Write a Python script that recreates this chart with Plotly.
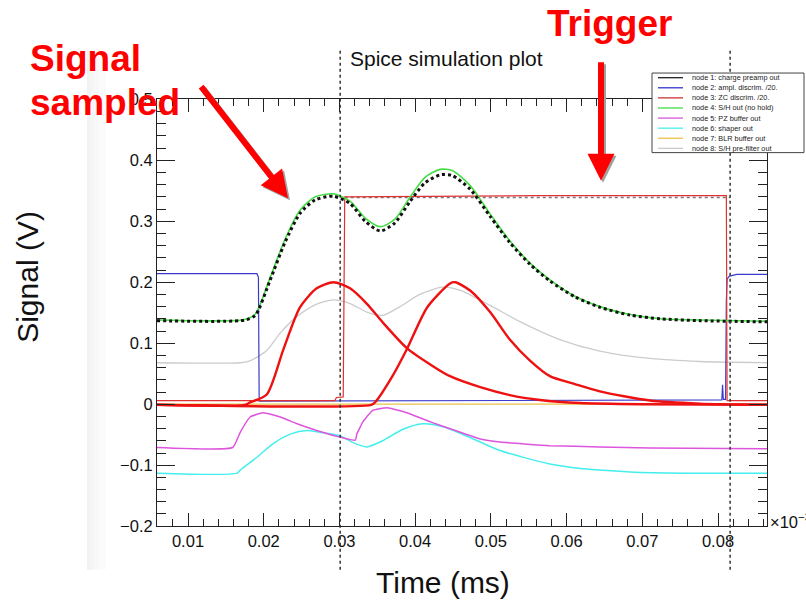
import plotly.graph_objects as go

W, H = 806, 607

# ---------------- data (time in units shown on axis, x10^-3 ; signal in V) ----------------
t_preamp = [0.0059, 0.0175, 0.0189, 0.0208, 0.0228, 0.0248, 0.0268, 0.0292, 0.0314, 0.0334, 0.0354,
            0.0373, 0.0393, 0.0413, 0.0433, 0.0449, 0.0473, 0.0499, 0.0525, 0.0552, 0.0578, 0.0611,
            0.0644, 0.0684, 0.0724, 0.0776, 0.0865]
v_preamp = [0.137, 0.138, 0.146, 0.202, 0.265, 0.313, 0.335, 0.341, 0.329, 0.300, 0.284,
            0.297, 0.332, 0.363, 0.376, 0.375, 0.352, 0.308, 0.265, 0.229, 0.202, 0.176,
            0.159, 0.146, 0.140, 0.137, 0.135]
v_sh = [0.138, 0.139, 0.148, 0.206, 0.270, 0.318, 0.340, 0.345, 0.333, 0.305, 0.291,
        0.303, 0.339, 0.372, 0.385, 0.383, 0.358, 0.312, 0.268, 0.231, 0.204, 0.177,
        0.160, 0.147, 0.140, 0.138, 0.136]

t_ampl = [0.0059, 0.0191, 0.0193, 0.0194, 0.0805, 0.0806, 0.0807, 0.0810, 0.0811, 0.0812, 0.0815, 0.0825, 0.0865]
v_ampl = [0.214, 0.214, 0.208, 0.005, 0.007, 0.032, 0.008, 0.008, 0.170, 0.205, 0.210, 0.213, 0.213]

t_zc = [0.0059, 0.0294, 0.0296, 0.0305, 0.0307, 0.0500, 0.0560, 0.0811, 0.0812, 0.0865]
v_zc = [0.006, 0.006, 0.011, 0.012, 0.340, 0.341, 0.342, 0.342, 0.006, 0.006]

t_pulse1 = [0.0059, 0.0175, 0.0182, 0.0204, 0.0226, 0.0248, 0.0270, 0.0292, 0.0314, 0.0336, 0.0358,
            0.0389, 0.0424, 0.0446, 0.0486, 0.0525, 0.0565, 0.0618, 0.0700, 0.0865]
v_pulse1 = [-0.001, -0.001, 0.003, 0.016, 0.090, 0.159, 0.190, 0.200, 0.190, 0.165, 0.133,
            0.092, 0.062, 0.046, 0.028, 0.015, 0.007, 0.002, 0.000, -0.001]

t_pulse2 = [0.0059, 0.0342, 0.0347, 0.0371, 0.0389, 0.0416, 0.0446, 0.0453, 0.0473, 0.0499, 0.0525,
            0.0552, 0.0578, 0.0611, 0.0644, 0.0710, 0.0776, 0.0865]
v_pulse2 = [-0.001, -0.001, 0.003, 0.048, 0.090, 0.159, 0.198, 0.200, 0.186, 0.151, 0.106,
            0.071, 0.046, 0.033, 0.021, 0.006, 0.001, -0.001]

t_pz = [0.0059, 0.0159, 0.0169, 0.0182, 0.0199, 0.0222, 0.0244, 0.0270, 0.0301, 0.0321, 0.0323,
        0.0331, 0.0344, 0.0363, 0.0389, 0.0420, 0.0455, 0.0486, 0.0512, 0.0578, 0.0644, 0.0710, 0.0865]
v_pz = [-0.071, -0.071, -0.046, -0.021, -0.014, -0.021, -0.032, -0.043, -0.054, -0.059, -0.049,
        -0.029, -0.010, -0.006, -0.014, -0.029, -0.044, -0.057, -0.062, -0.068, -0.070, -0.072, -0.073]

t_shaper = [0.0059, 0.0165, 0.0169, 0.0191, 0.0212, 0.0235, 0.0257, 0.0274, 0.0301, 0.0318, 0.0336,
            0.0357, 0.0384, 0.0410, 0.0437, 0.0486, 0.0512, 0.0578, 0.0622, 0.0684, 0.0754, 0.0865]
v_shaper = [-0.113, -0.113, -0.108, -0.087, -0.065, -0.049, -0.043, -0.046, -0.052, -0.063, -0.070,
            -0.060, -0.041, -0.032, -0.037, -0.062, -0.076, -0.098, -0.106, -0.111, -0.113, -0.113]

t_blr = [0.0059, 0.0865]
v_blr = [0.0, 0.0]

t_pre = [0.0059, 0.0169, 0.0182, 0.0204, 0.0222, 0.0244, 0.0268, 0.0292, 0.0314, 0.0338, 0.0358,
         0.0380, 0.0406, 0.0436, 0.0459, 0.0499, 0.0539, 0.0591, 0.0644, 0.0710, 0.0776, 0.0865]
v_pre = [0.068, 0.068, 0.071, 0.088, 0.117, 0.144, 0.163, 0.171, 0.165, 0.150, 0.146,
         0.160, 0.180, 0.192, 0.187, 0.162, 0.135, 0.106, 0.087, 0.075, 0.070, 0.068]

t_hold = [0.0307, 0.0816]
v_hold = [0.339, 0.339]

t_markers = [0.0301, 0.0816]   # sampling / trigger instants (dotted verticals)

legend_names = ["node 1: charge preamp out", "node 2: ampl. discrim. /20.", "node 3: ZC discrim. /20.",
                "node 4: S/H out (no hold)", "node 5: PZ buffer out", "node 6: shaper out",
                "node 7: BLR buffer out", "node 8: S/H pre-filter out"]
legend_colors = ["#222222", "#3333cc", "#cc3333", "#44dd44", "#dd55dd", "#44eeee", "#e8c24a", "#cccccc"]

x_ticks = [0.01, 0.02, 0.03, 0.04, 0.05, 0.06, 0.07, 0.08]
x_ticklabels = ["0.01", "0.02", "0.03", "0.04", "0.05", "0.06", "0.07", "0.08"]
y_ticks = [-0.2, -0.1, 0, 0.1, 0.2, 0.3, 0.4, 0.5]
y_ticklabels = ["\u22120.2", "\u22120.1", "0", "0.1", "0.2", "0.3", "0.4", "0.5"]

# ---------------- figure ----------------
fig = go.Figure()

def add(t, v, color, width, dash="solid", shape="spline", smoothing=0.7):
    fig.add_trace(go.Scatter(x=t, y=v, mode="lines", showlegend=False, hoverinfo="skip",
                             line=dict(color=color, width=width, dash=dash, shape=shape,
                                       smoothing=smoothing if shape == "spline" else None)))

add(t_pre, v_pre, "#cccccc", 1.3)
add(t_blr, v_blr, "#e8c24a", 1.2, shape="linear")
add(t_shaper, v_shaper, "#44eeee", 1.5)
add(t_pz, v_pz, "#dd55dd", 1.5, smoothing=0.4)
add(t_ampl, v_ampl, "#3a3acc", 1.2, shape="linear")
add(t_hold, v_hold, "#777777", 1.5, dash="dot", shape="linear")
add(t_zc, v_zc, "#e03030", 1.2, shape="linear")
add(t_pulse1, v_pulse1, "#ee1111", 2.4)
add(t_pulse2, v_pulse2, "#ee1111", 2.4)
add(t_preamp, v_sh, "#44dd44", 1.6)
add(t_preamp, v_preamp, "#111111", 3, dash="dot")

X0, X1, Y0, Y1 = 157, 767, 93, 533

def px(x):
    return x / W

def py(y):
    return 1 - y / H

axis_common = dict(showline=True, linecolor="#222222", linewidth=1, mirror="ticks", ticks="inside",
                   tickcolor="#222222", showgrid=False, zeroline=False,
                   tickfont=dict(family="Liberation Sans", size=16.5, color="#111111"))

fig.update_xaxes(range=[0.005905, 0.08647], domain=[px(X0), px(X1)], tickvals=x_ticks,
                 ticktext=x_ticklabels, ticklen=13,
                 minor=dict(dtick=0.002, tick0=0, ticklen=7, ticks="inside", tickcolor="#222222"),
                 **axis_common)
fig.update_yaxes(range=[-0.2, 0.5], domain=[py(Y1), py(Y0)], tickvals=y_ticks,
                 ticktext=y_ticklabels, ticklen=18,
                 minor=dict(dtick=0.02, tick0=0, ticklen=9, ticks="inside", tickcolor="#222222"),
                 **axis_common)

shapes = []
# faint left-edge shading of the canvas
for xa, xb, c in [(87, 90, "#f2f2f2"), (90, 94, "#f5f5f5"), (94, 99, "#f8f8f8"), (99, 106, "#fbfbfb")]:
    shapes.append(dict(type="rect", xref="paper", yref="paper", x0=px(xa), x1=px(xb), y0=py(578), y1=py(43),
                       fillcolor=c, line=dict(width=0), layer="below"))
# dotted vertical markers
for tm in t_markers:
    shapes.append(dict(type="line", xref="x", yref="paper", x0=tm, x1=tm, y0=py(578), y1=py(40),
                       line=dict(color="#333333", width=1.5, dash="dot")))
# legend box
shapes.append(dict(type="rect", xref="paper", yref="paper", x0=px(652), x1=px(804), y0=py(148), y1=py(66),
                   fillcolor="white", line=dict(color="#444444", width=1)))
annotations = []
for i, (name, col) in enumerate(zip(legend_names, legend_colors)):
    yy = 70.8 + i * 10.4
    shapes.append(dict(type="line", xref="paper", yref="paper", x0=px(658), x1=px(683), y0=py(yy), y1=py(yy),
                       line=dict(color=col, width=1.3)))
    annotations.append(dict(x=px(690), y=py(yy), xref="paper", yref="paper", text=name, showarrow=False,
                            xanchor="left", yanchor="middle",
                            font=dict(family="Liberation Sans", size=7.3, color="#222222")))

# titles
annotations += [
    dict(x=px(348), y=py(51), xref="paper", yref="paper", text="Spice simulation plot", showarrow=False,
         xanchor="left", yanchor="middle", font=dict(family="Liberation Sans", size=21, color="#111111")),
    dict(x=px(443), y=py(591), xref="paper", yref="paper", text="Time (ms)", showarrow=False,
         xanchor="center", yanchor="middle", font=dict(family="Liberation Sans", size=30, color="#111111")),
    dict(x=px(28), y=py(276), xref="paper", yref="paper", text="Signal (V)", showarrow=False, textangle=-90,
         xanchor="center", yanchor="middle", font=dict(family="Liberation Sans", size=30, color="#111111")),
    dict(x=px(768), y=py(528), xref="paper", yref="paper", text="\u00d710<sup>\u22123</sup>", showarrow=False,
         xanchor="left", yanchor="middle", font=dict(family="Liberation Sans", size=16.5, color="#111111")),
]

# red callouts
red = "#ff0000"
for (tx, ty, txt) in [(28, 51, "Signal"), (28, 96, "sampled"), (545, 15, "Trigger")]:
    annotations.append(dict(x=px(tx), y=py(ty), xref="paper", yref="paper", text=txt, showarrow=False,
                            xanchor="left", yanchor="middle",
                            font=dict(family="Liberation Sans", size=37, color=red, weight="bold")))
# arrows (shadow then arrow)
for (tipx, tipy, tailx, taily) in [(288, 195, 200, 82), (601, 177, 601, 57)]:
    for dx, col in [(2, "#a0a0a0"), (0, red)]:
        annotations.append(dict(x=px(tipx + dx), y=py(tipy + dx), xref="paper", yref="paper", text="",
                                showarrow=True, ax=tailx - tipx, ay=taily - tipy, axref="pixel", ayref="pixel",
                                arrowhead=2, arrowsize=0.9, arrowwidth=6, arrowcolor=col, standoff=0))

fig.update_layout(width=W, height=H, margin=dict(l=0, r=0, t=0, b=0), autosize=False,
                  paper_bgcolor="white", plot_bgcolor="white", showlegend=False,
                  shapes=shapes, annotations=annotations,
                  font=dict(family="Liberation Sans"))

fig.write_html("out.html")
